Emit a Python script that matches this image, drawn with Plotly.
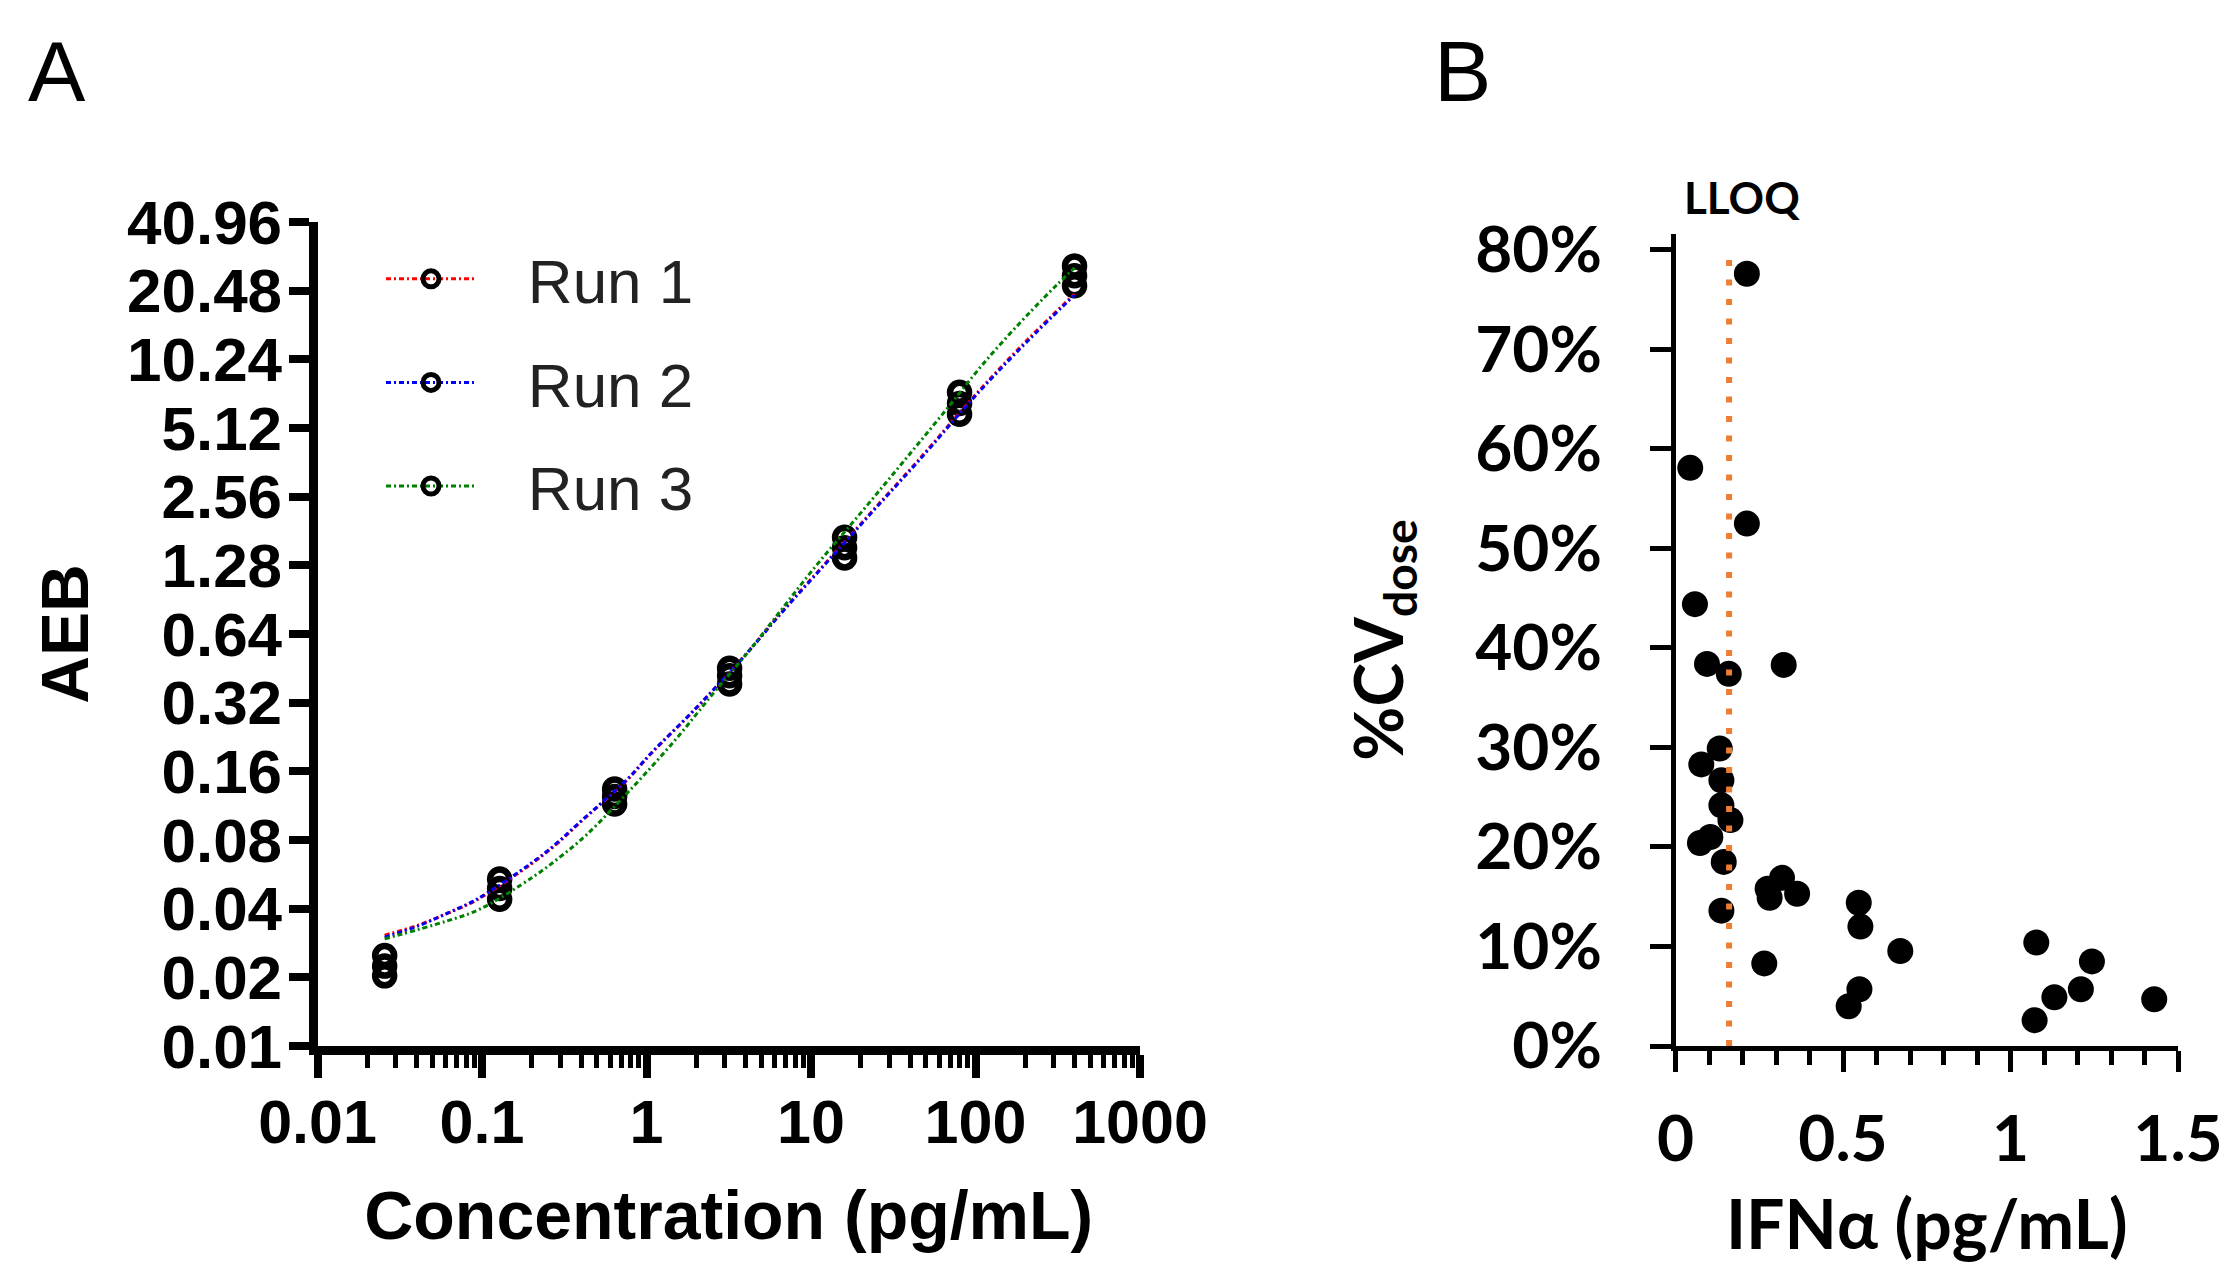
import plotly.graph_objects as go

# ---------------- Panel A data ----------------
concentration = [0.0256, 0.128, 0.64, 3.2, 16, 80, 400]
run1_aeb = [0.0249, 0.054, 0.134, 0.453, 1.70, 6.55, 23.8]
run2_aeb = [0.0224, 0.049, 0.124, 0.420, 1.38, 5.88, 21.5]
run3_aeb = [0.0203, 0.044, 0.115, 0.386, 1.53, 7.34, 26.3]

# fitted curves
fit12_conc = [0.0256, 0.041, 0.062, 0.093, 0.196, 0.28, 0.39, 0.78, 1.05, 2.0, 3.9, 6.8, 12.5, 23.4, 44, 106, 205, 400]
run1_fit = [0.0306, 0.0339, 0.0382, 0.0437, 0.0622, 0.076, 0.0947, 0.149, 0.189, 0.302, 0.509, 0.815, 1.33, 2.20, 3.64, 7.51, 12.4, 19.8]
run2_fit = [0.0300, 0.0336, 0.0383, 0.0440, 0.0628, 0.0767, 0.0953, 0.150, 0.190, 0.303, 0.508, 0.81, 1.32, 2.18, 3.60, 7.42, 12.2, 19.6]
fit3_conc = [0.0256, 0.061, 0.097, 0.205, 0.30, 0.43, 0.83, 1.49, 2.55, 4.16, 10.6, 20.8, 36.4, 63.7, 117, 220, 312, 400]
run3_fit = [0.0295, 0.0353, 0.0398, 0.0552, 0.0676, 0.0841, 0.137, 0.219, 0.352, 0.535, 1.26, 2.24, 3.64, 5.94, 10.2, 16.8, 21.7, 25.8]

run_names = ["Run 1", "Run 2", "Run 3"]
run_colors = ["#FF0000", "#0000FF", "#008000"]

aeb_ticks = [0.01, 0.02, 0.04, 0.08, 0.16, 0.32, 0.64, 1.28, 2.56, 5.12, 10.24, 20.48, 40.96]
aeb_ticktext = ["0.01", "0.02", "0.04", "0.08", "0.16", "0.32", "0.64", "1.28", "2.56", "5.12", "10.24", "20.48", "40.96"]
conc_ticks = [0.01, 0.1, 1, 10, 100, 1000]
conc_ticktext = ["0.01", "0.1", "1", "10", "100", "1000"]

# ---------------- Panel B data ----------------
ifn_alpha = [0.213, 0.044, 0.213, 0.058, 0.094, 0.159, 0.323, 0.132, 0.077, 0.137,
             0.137, 0.164, 0.104, 0.073, 0.144, 0.137, 0.275, 0.281, 0.318, 0.363,
             0.265, 0.547, 0.552, 0.671, 0.549, 0.517, 1.077, 1.243, 1.210, 1.131,
             1.072, 1.429]
cv_dose = [77.6, 58.1, 52.5, 44.4, 38.4, 37.4, 38.3, 29.9, 28.3, 26.7,
           24.2, 22.7, 21.0, 20.4, 18.5, 13.6, 15.8, 14.9, 16.9, 15.3,
           8.3, 14.4, 12.0, 9.55, 5.7, 4.0, 10.4, 8.5, 5.7, 4.9,
           2.6, 4.7]
lloq = 0.16
cv_ticks = [0, 10, 20, 30, 40, 50, 60, 70, 80]
cv_ticktext = ["0%", "10%", "20%", "30%", "40%", "50%", "60%", "70%", "80%"]
ifn_ticks = [0, 0.5, 1, 1.5]
ifn_ticktext = ["0", "0.5", "1", "1.5"]

W, H = 2227, 1263
FA = "Liberation Sans, Arial, sans-serif"
FB = "Lato, Calibri, sans-serif"
DASHDOT = "5px,3px,2px,3px"
PAD = "\u00a0\u00a0\u2009"

fig = go.Figure()

# points (drawn first, lines on top)
for name, vals in zip(run_names, [run1_aeb, run2_aeb, run3_aeb]):
    fig.add_trace(go.Scatter(
        x=concentration, y=vals, mode="markers", showlegend=False,
        marker=dict(symbol="circle-open", size=19, color="black", line=dict(width=6.5, color="black")),
        xaxis="x", yaxis="y", name=name))

for name, color, xs, ys in zip(run_names, run_colors,
                               [fit12_conc, fit12_conc, fit3_conc],
                               [run1_fit, run2_fit, run3_fit]):
    fig.add_trace(go.Scatter(
        x=xs, y=ys, mode="lines", showlegend=False,
        line=dict(color=color, width=3, dash=DASHDOT, shape="spline"),
        xaxis="x", yaxis="y", name=name))

# legend entries
for name, color in zip(run_names, run_colors):
    fig.add_trace(go.Scatter(
        x=[None], y=[None], mode="lines+markers", name=PAD + name, legendgroup=name,
        line=dict(color=color, width=3, dash=DASHDOT),
        marker=dict(symbol="circle-open", size=16, color="black", line=dict(width=5, color="black")),
        xaxis="x", yaxis="y"))

# Panel B
fig.add_trace(go.Scatter(
    x=ifn_alpha, y=cv_dose, mode="markers", showlegend=False,
    marker=dict(symbol="circle", size=26, color="black"),
    xaxis="x2", yaxis="y2"))

fig.add_shape(type="line", xref="x2", yref="y2", x0=lloq, x1=lloq, y0=0, y1=80,
              line=dict(color="#ED7D31", width=6, dash="6px,13.5px"))

ydomA = [1 - 1046 / H, 1 - 222 / H]
ydomB = [1 - 1046 / H, 1 - 234 / H]

fig.update_layout(
    width=W, height=H,
    margin=dict(l=0, r=0, t=0, b=0, autoexpand=False),
    paper_bgcolor="white", plot_bgcolor="white",
    showlegend=True,
    legend=dict(x=381 / W, y=1 - 232 / H, xanchor="left", yanchor="top",
                font=dict(family=FA, size=62, color="#222222"),
                bgcolor="rgba(0,0,0,0)", itemwidth=90, tracegroupgap=20,
                itemclick=False),
    xaxis=dict(
        type="log", range=[-2, 3], domain=[317.5 / W, 1140 / W], anchor="y",
        showline=True, linecolor="black", linewidth=9, showgrid=False, zeroline=False,
        ticks="outside", ticklen=23, tickwidth=8, tickcolor="black",
        tickvals=conc_ticks, ticktext=conc_ticktext,
        tickfont=dict(family=FA, size=61, color="black", weight="bold"),
        ticklabelstandoff=-8,
        minor=dict(ticks="outside", ticklen=13, tickwidth=5, tickcolor="black",
                   tickvals=[m * 10 ** e for e in range(-2, 3) for m in range(2, 10)]),
        title=dict(text="Concentration (pg/mL)", standoff=40,
                   font=dict(family=FA, size=68, color="black", weight="bold")),
    ),
    yaxis=dict(
        type="log", range=[-2, 1.61236], domain=ydomA, anchor="x",
        showline=True, linecolor="black", linewidth=9, showgrid=False, zeroline=False,
        ticks="outside", ticklen=20, tickwidth=8, tickcolor="black",
        tickvals=aeb_ticks, ticktext=aeb_ticktext,
        tickfont=dict(family=FA, size=62, color="black", weight="bold"),
        ticklabelstandoff=-6,
        title=dict(text="AEB", standoff=20,
                   font=dict(family=FA, size=66, color="black", weight="bold")),
    ),
    xaxis2=dict(
        range=[0, 1.5], domain=[1675.5 / W, 2178 / W], anchor="y2",
        showline=True, linecolor="black", linewidth=4.5, showgrid=False, zeroline=False,
        ticks="outside", ticklen=21, tickwidth=4.5, tickcolor="black",
        tickvals=ifn_ticks, ticktext=ifn_ticktext,
        minor=dict(ticks="outside", ticklen=14, tickwidth=4.5, tickcolor="black", dtick=0.1),
        tickfont=dict(family=FB, size=64, color="black", weight="bold"),
        ticklabelstandoff=12,
        title=dict(text="IFNα (pg/mL)", standoff=82,
                   font=dict(family=FB, size=68, color="black", weight="bold")),
    ),
    yaxis2=dict(
        range=[0, 81.6], domain=ydomB, anchor="x2",
        showline=True, linecolor="black", linewidth=4.5, showgrid=False, zeroline=False,
        ticks="outside", ticklen=21, tickwidth=4.5, tickcolor="black",
        tickvals=cv_ticks, ticktext=cv_ticktext,
        tickfont=dict(family=FB, size=64, color="black", weight="bold"),
        ticklabelstandoff=35,
        title=dict(text="%CV<sub>dose</sub>", standoff=52,
                   font=dict(family=FB, size=66, color="black", weight="bold")),
    ),
    annotations=[
        dict(text="A", x=57 / W, y=1 - 71 / H, xref="paper", yref="paper",
             xanchor="center", yanchor="middle",
             showarrow=False, font=dict(family=FA, size=86, color="black")),
        dict(text="B", x=1462 / W, y=1 - 71 / H, xref="paper", yref="paper",
             xanchor="center", yanchor="middle",
             showarrow=False, font=dict(family=FA, size=86, color="black")),
        dict(text="LLOQ", x=1742 / W, y=1 - 197 / H, xref="paper", yref="paper",
             xanchor="center", yanchor="middle",
             showarrow=False, font=dict(family=FB, size=44, color="black", weight="bold")),
    ],
)

fig.write_html("out.html", config={"displayModeBar": False},
               post_script="document.body.style.margin='0';")
